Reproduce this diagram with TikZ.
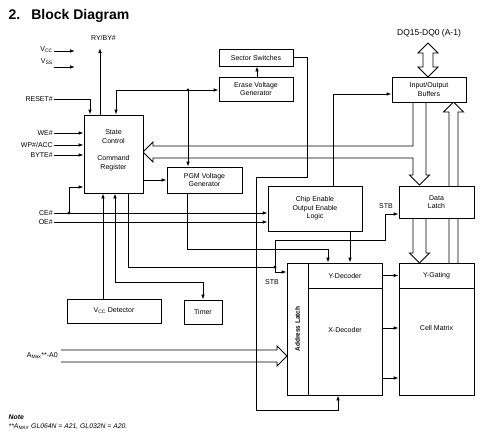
\documentclass[tikz,border=0pt]{standalone}
\usepackage{fontspec}
\setmainfont{Liberation Sans}
\usetikzlibrary{arrows.meta}
\begin{document}
\begin{tikzpicture}[x=1pt,y=-1pt,
  every node/.style={font=\fontsize{7}{8.5}\selectfont, inner sep=1pt},
  box/.style={draw, line width=0.9pt, fill=white, inner sep=0pt, align=center},
  wire/.style={line width=0.9pt},
  arr/.style={wire, -{Latex[length=5pt,width=3.6pt]}},
  bus/.style={line width=0.9pt, line join=miter},
  lbl/.style={anchor=east},
  jdot/.style={circle, fill, inner sep=0pt, minimum size=3.4pt}]
\fill[white] (0,0) rectangle (498,439);
\useasboundingbox (0,0) rectangle (498,439);

% title and notes
\node[anchor=west, font=\fontsize{14}{16}\selectfont\bfseries] (title) at (7.5,15.5) {2.\hspace{11pt}Block Diagram};
\node[anchor=west, font=\fontsize{6.8}{8}\selectfont\bfseries\itshape] (note) at (7.5,417) {Note};
\node[anchor=west, font=\fontsize{6.8}{8}\selectfont\itshape] (note2) at (7.5,427) {**A\textsubscript{MAX} GL064N = A21, GL032N = A20.};

% buses (drawn first)
\draw[bus] (428,43) -- (438,53) -- (433,53) -- (433,67) -- (438,67) -- (428,77) -- (418,67) -- (423,67) -- (423,53) -- (418,53) -- cycle;
\draw[bus] (449,263) -- (449,112) -- (443.5,112) -- (453.5,102) -- (463.5,112) -- (458,112) -- (458,263);
\draw[bus] (413,218) -- (413,253) -- (409.5,253) -- (419.5,263) -- (429.5,253) -- (426,253) -- (426,218);
\draw[bus] (413,102) -- (413,146) -- (153,146) -- (153,142) -- (143,152) -- (153,162) -- (153,158) -- (413,158) -- (413,175) -- (409.5,175) -- (419.5,185) -- (429.5,175) -- (426,175) -- (426,102);
\draw[bus] (61,350) -- (277,350) -- (277,346) -- (287,356) -- (277,366) -- (277,362) -- (61,362);

% boxes
\node[box, minimum width=74pt, minimum height=17pt] (ss) at (256,57.5) {Sector Switches};
\node[box, minimum width=74pt, minimum height=24pt] (ev) at (256,89) {Erase Voltage\\Generator};
\node[box, minimum width=74pt, minimum height=25pt] (iob) at (429,89.5) {Input/Output\\Buffers};
\node[box, minimum width=59pt, minimum height=78pt] (sc) at (113.5,154) {};
\node[align=center] (scT) at (113.5,150.5) {State\\Control\\[9pt]Command\\Register};
\node[box, minimum width=75pt, minimum height=26pt] (pgm) at (204.5,180) {PGM Voltage\\Generator};
\node[box, minimum width=94pt, minimum height=45pt] (ce) at (315,208.5) {Chip Enable\\Output Enable\\Logic};
\node[box, minimum width=75pt, minimum height=32pt] (dl) at (436.5,202) {Data\\Latch};
\node[box, minimum width=21pt, minimum height=132pt] (al) at (297.5,329) {};
\node[rotate=90, font=\fontsize{6.5}{8}\selectfont\bfseries] (alT) at (297.5,329) {Address Latch};
\node[box, minimum width=74pt, minimum height=25pt] (yd) at (345,275.5) {Y-Decoder};
\node[box, minimum width=74pt, minimum height=107pt] (xd) at (345,341.5) {};
\node (xdT) at (345,330) {X-Decoder};
\node[box, minimum width=75pt, minimum height=25pt] (yg) at (436.5,275.5) {Y-Gating};
\node[box, minimum width=75pt, minimum height=107pt] (cm) at (436.5,341.5) {};
\node (cmT) at (436.5,328) {Cell Matrix};
\node[box, minimum width=94pt, minimum height=24pt] (vd) at (114,311) {V\textsubscript{CC} Detector};
\node[box, minimum width=38pt, minimum height=24pt] (tm) at (203,312) {Timer};

% labels
\node[font=\fontsize{8.5}{10}\selectfont] (dq) at (429,33) {DQ15-DQ0 (A-1)};
\node (ry) at (103.5,38) {RY/BY\#};
\node[lbl] (vcc) at (54,50) {V\textsubscript{CC}};
\node[lbl] (vss) at (54,62) {V\textsubscript{SS}};
\node[lbl] (rst) at (54,99) {RESET\#};
\node[lbl] (we) at (54,133) {WE\#};
\node[lbl] (wp) at (54,145) {WP\#/ACC};
\node[lbl] (byte) at (54,155) {BYTE\#};
\node[lbl] (cein) at (54,213) {CE\#};
\node[lbl] (oein) at (54,222) {OE\#};
\node[lbl] (amax) at (59,356) {A\textsubscript{Max}**-A0};
\node (stb1) at (386,206) {STB};
\node (stb2) at (272,282) {STB};

% connectors
\coordinate (ryE) at (100,48);
\draw[arr] (sc.north -| ryE) -- (ryE);
\draw[arr] (vcc.east |- 0,51) -- (75,51);
\draw[arr] (vss.east |- 0,67) -- (75,67);
\draw[arr] (rst.east) -| (sc.north -| 90,0);
\draw[arr] (we.east) -- (sc.west |- we.east);
\draw[arr] (wp.east) -- (sc.west |- wp.east);
\draw[arr] (byte.east) -- (sc.west |- byte.east);
\draw[arr] (cein.east) -- (ce.west |- cein.east);
\draw[arr] (oein.east) -- (ce.west |- oein.east);
\node[jdot] (d1) at (69,213) {};
\draw[arr] (d1.center) |- (sc.west |- 0,187);

\coordinate (f0) at (116,90);
\draw[arr] (f0) -- (sc.north -| f0);
\draw[arr] (f0) -- (ev.west |- f0);
\node[jdot] (d2) at (188,90) {};
\draw[arr] (d2.center) -- (pgm.north -| d2);

\draw[arr] (sc.east |- 0,180) -- (pgm.west |- 0,180);
\draw[arr] (ev.north -| 257,0) -- (ss.south -| 257,0);
\draw[arr] (ss.east) -- (307,57.5) -- (307,177) -- (256,177) -- (256,410) -| (xd.south -| 338,0);
\draw[arr] (ce.north -| 333,0) |- (iob.west |- 0,94);
\draw[arr] (pgm.south -| 187,0) -- (187,249) -| (yd.north -| 328,0);
\draw[arr] (ce.south -| 350,0) -- (yd.north -| 350,0);

\node[jdot] (d3) at (275,267) {};
\draw[wire] (sc.south -| 128,0) |- (d3.center);
\draw[arr] (d3.center) |- (385,240) |- (dl.west |- 0,214);
\draw[arr] (d3.center) |- (al.west |- 0,272);

\draw[arr] (vd.north -| 103,0) -- (sc.south -| 103,0);
\coordinate (t0) at (115,282);
\draw[arr] (t0) -- (sc.south -| t0);
\draw[arr] (t0) -| (tm.north);

\draw[arr] (yd.east) -- (yg.west);
\draw[arr] (xd.east |- 0,328) -- (cm.west |- 0,328);
\draw[arr] (xd.east |- 0,378) -- (cm.west |- 0,378);
\end{tikzpicture}
\end{document}
